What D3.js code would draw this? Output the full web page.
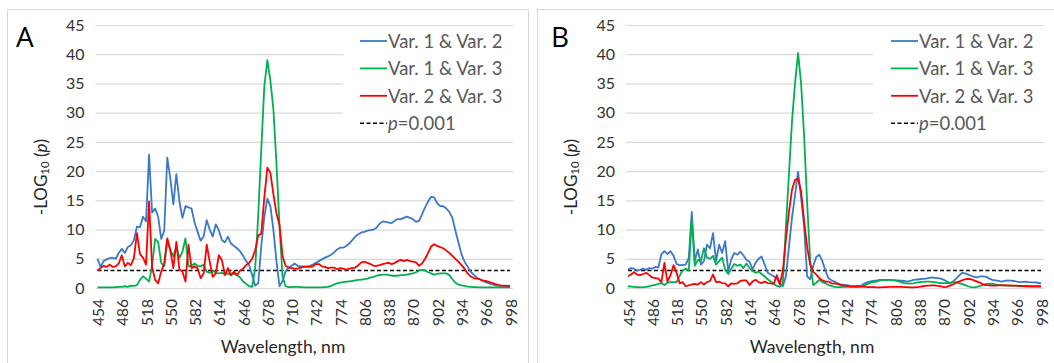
<!DOCTYPE html>
<html>
<head>
<meta charset="utf-8">
<script src="https://cdn.jsdelivr.net/npm/d3@7"></script>
<style>
  html, body { margin: 0; padding: 0; background: #fff; }
  svg { display: block; font-family: Lato, "Noto Sans", sans-serif; }
</style>
</head>
<body>
<svg id="chart" width="1054" height="363"></svg>
<script>
// Wavelength bands (nm)
const wavelengths = [
  454, 458, 462, 466, 470, 474, 478, 482,
  486, 490, 494, 498, 502, 506, 510, 514,
  518, 522, 526, 530, 534, 538, 542, 546,
  550, 554, 558, 562, 566, 570, 574, 578,
  582, 586, 590, 594, 598, 602, 606, 610,
  614, 618, 622, 626, 630, 634, 638, 642,
  646, 650, 654, 658, 662, 666, 670, 674,
  678, 682, 686, 690, 694, 698, 702, 706,
  710, 714, 718, 722, 726, 730, 734, 738,
  742, 746, 750, 754, 758, 762, 766, 770,
  774, 778, 782, 786, 790, 794, 798, 802,
  806, 810, 814, 818, 822, 826, 830, 834,
  838, 842, 846, 850, 854, 858, 862, 866,
  870, 874, 878, 882, 886, 890, 894, 898,
  902, 906, 910, 914, 918, 922, 926, 930,
  934, 938, 942, 946, 950, 954, 958, 962,
  966, 970, 974, 978, 982, 986, 990, 994,
  998
];

const xTickLabels = [454, 486, 518, 550, 582, 614, 646, 678, 710, 742, 774, 806, 838, 870, 902, 934, 966, 998];
const yTickValues = [0, 5, 10, 15, 20, 25, 30, 35, 40, 45];
const seriesNames = ["Var. 1 & Var. 2", "Var. 1 & Var. 3", "Var. 2 & Var. 3"];
const pThreshold = 0.001;
const panelLetters = ["A", "B"];

// Panel A: -log10(p) per band
const panelA_var12 = [
  5.0, 3.6, 4.6, 4.9, 5.1, 5.2, 5.0, 6.0,
  6.7, 6.0, 7.0, 7.3, 8.2, 10.5, 10.4, 12.2,
  11.4, 22.8, 12.9, 13.6, 12.2, 8.4, 9.8, 22.3,
  18.8, 14.3, 19.5, 14.8, 12.0, 14.0, 13.8, 13.6,
  11.2, 9.6, 8.1, 8.8, 11.6, 10.0, 8.8, 10.9,
  9.9, 8.2, 7.8, 8.8, 7.6, 7.2, 6.8, 6.3,
  5.5, 4.6, 3.9, 2.2, 0.4, 0.8, 7.2, 12.2,
  15.3, 14.0, 9.9, 4.6, 0.3, 1.2, 2.8, 3.5,
  3.8, 4.2, 3.8, 3.7, 3.7, 3.7, 3.8, 4.0,
  4.3, 4.6, 4.9, 5.2, 5.4, 5.7, 6.1, 6.6,
  6.9, 6.9, 7.2, 7.6, 8.2, 8.8, 9.2, 9.5,
  9.6, 9.8, 9.9, 10.0, 10.3, 11.0, 11.4, 11.3,
  11.2, 11.1, 11.5, 11.8, 11.8, 12.0, 12.2, 12.0,
  11.8, 11.3, 11.5, 12.6, 13.8, 14.8, 15.6, 15.5,
  14.5, 14.0, 14.0, 13.6, 13.0, 12.0, 9.8, 7.8,
  5.8, 4.5, 3.7, 2.8, 2.3, 1.8, 1.5, 1.2,
  1.0, 0.8, 0.65, 0.5, 0.4, 0.35, 0.3, 0.25,
  0.2
];
const panelA_var13 = [
  0.1, 0.1, 0.1, 0.1, 0.1, 0.1, 0.15, 0.2,
  0.2, 0.3, 0.2, 0.4, 0.35, 0.5, 1.4, 2.0,
  1.6, 1.1, 3.8, 8.4, 7.9, 4.3, 3.7, 8.0,
  6.5, 5.4, 7.1, 5.1, 6.2, 8.5, 3.7, 3.8,
  4.2, 3.8, 3.7, 4.0, 2.8, 2.6, 3.0, 2.6,
  2.5, 2.6, 2.3, 2.5, 2.2, 2.5, 2.2, 1.8,
  1.1, 0.7, 0.3, 0.2, 3.5, 12.5, 23.8, 34.5,
  39.0, 35.5, 30.5, 21.3, 10.8, 2.0, 0.3, 0.15,
  0.15, 0.2, 0.2, 0.15, 0.1, 0.1, 0.1, 0.1,
  0.1, 0.1, 0.1, 0.15, 0.2, 0.35, 0.6, 0.8,
  0.9, 1.0, 1.1, 1.15, 1.2, 1.3, 1.4, 1.45,
  1.5, 1.6, 1.8, 1.9, 2.1, 2.2, 2.3, 2.3,
  2.2, 2.1, 2.1, 2.1, 2.2, 2.2, 2.3, 2.4,
  2.5, 2.7, 3.0, 3.1, 3.0, 2.7, 2.5, 2.3,
  2.4, 2.5, 2.5, 2.5, 2.2, 1.5, 0.9, 0.6,
  0.45, 0.35, 0.25, 0.2, 0.15, 0.15, 0.1, 0.1,
  0.1, 0.1, 0.1, 0.1, 0.1, 0.1, 0.1, 0.1,
  0.1
];
const panelA_var23 = [
  3.0, 3.4, 3.8, 3.6, 4.0, 3.6, 3.7, 4.2,
  5.6, 3.7, 4.3, 3.9, 5.1, 9.4, 5.8, 5.2,
  4.0, 14.8, 3.5, 1.4, 0.8, 2.8, 4.2, 8.5,
  6.5, 3.4, 7.9, 3.2, 2.8, 1.1, 7.4, 3.4,
  3.7, 3.4, 1.7, 2.5, 7.4, 4.5, 1.9, 2.5,
  5.6, 4.8, 2.2, 3.4, 2.2, 2.8, 2.2, 3.0,
  3.3, 3.9, 4.3, 5.0, 6.5, 9.0, 9.3, 15.5,
  20.6, 19.7, 16.0, 12.8, 10.8, 5.5, 3.8, 3.5,
  3.4, 3.3, 3.3, 3.5, 3.6, 3.6, 3.6, 3.7,
  4.1, 4.1, 3.7, 3.6, 3.4, 3.5, 3.5, 3.2,
  3.4, 3.3, 3.1, 3.3, 3.4, 3.5, 3.9, 4.4,
  4.5, 4.3, 4.1, 3.8, 3.8, 3.9, 4.1, 4.2,
  4.3, 4.1, 4.3, 4.6, 4.8, 4.6, 4.8, 4.6,
  4.5, 4.4, 3.8, 4.2, 5.0, 6.0, 7.1, 7.5,
  7.2, 7.0, 6.8, 6.4, 6.0, 5.5, 5.0, 4.5,
  3.9, 3.3, 2.5, 2.0, 1.7, 1.6, 1.5, 1.3,
  1.2, 1.05, 0.9, 0.7, 0.55, 0.45, 0.4, 0.35,
  0.35
];

// Panel B: -log10(p) per band
const panelB_var12 = [
  3.2, 3.4, 3.3, 3.0, 3.1, 3.3, 3.1, 3.4,
  3.3, 3.6, 3.5, 5.8, 6.3, 5.8, 6.3, 5.5,
  4.1, 3.9, 3.9, 4.0, 5.1, 13.0, 4.6, 6.6,
  4.0, 4.6, 7.4, 6.8, 9.4, 4.6, 7.4, 6.0,
  8.0, 2.9, 4.9, 6.0, 5.7, 6.2, 5.6, 4.8,
  4.5, 3.2, 4.3, 5.0, 5.4, 4.0, 2.6, 2.3,
  2.0, 1.6, 0.8, 0.3, 2.0, 7.0, 12.0, 15.8,
  19.9, 15.5, 10.5, 2.0, 1.5, 3.8, 5.3, 5.7,
  4.6, 3.0, 1.7, 1.3, 1.1, 0.8, 0.6, 0.5,
  0.5, 0.4, 0.38, 0.35, 0.35, 0.45, 0.8, 1.0,
  1.15, 1.25, 1.3, 1.4, 1.4, 1.4, 1.4, 1.35,
  1.3, 1.3, 1.25, 1.2, 1.1, 1.2, 1.4, 1.45,
  1.5, 1.55, 1.6, 1.7, 1.8, 1.75, 1.7, 1.6,
  1.4, 1.1, 0.85, 1.1, 1.6, 2.1, 2.6, 2.5,
  2.3, 2.1, 1.9, 1.8, 2.0, 2.0, 1.9, 1.6,
  1.4, 1.3, 1.2, 1.1, 1.2, 1.3, 1.25, 1.2,
  1.1, 1.0, 1.05, 1.1, 1.0, 0.95, 0.95, 0.9,
  0.85
];
const panelB_var13 = [
  0.3, 0.25, 0.2, 0.15, 0.1, 0.15, 0.2, 0.3,
  0.45, 0.55, 0.7, 0.85, 0.5, 0.9, 1.0, 1.0,
  1.0, 2.1, 3.0, 3.3, 3.0, 11.7, 3.8, 4.8,
  4.6, 6.8, 5.2, 5.0, 5.5, 4.0, 4.6, 5.2,
  3.1, 2.4, 3.3, 4.1, 3.8, 4.0, 3.4, 4.2,
  3.4, 2.9, 2.6, 2.8, 2.4, 2.0, 1.5, 1.1,
  0.7, 0.35, 0.2, 0.8, 10.5, 19.5, 28.5, 35.0,
  40.2, 35.0, 26.0, 14.5, 4.5, 0.5, 0.9, 1.4,
  1.0, 0.8, 0.5, 0.35, 0.2, 0.15, 0.15, 0.2,
  0.2, 0.25, 0.3, 0.3, 0.2, 0.3, 0.5, 0.7,
  0.95, 1.0, 1.15, 1.3, 1.35, 1.4, 1.4, 1.35,
  1.3, 1.15, 1.0, 0.85, 0.8, 0.75, 0.8, 0.9,
  1.0, 1.05, 1.1, 1.1, 1.05, 1.0, 0.9, 0.85,
  0.85, 0.85, 0.85, 0.95, 1.0, 0.85, 0.7, 0.5,
  0.3, 0.15, 0.1, 0.2, 0.35, 0.55, 0.7, 0.75,
  0.7, 0.6, 0.55, 0.5, 0.45, 0.4, 0.4, 0.35,
  0.35, 0.3, 0.3, 0.3, 0.3, 0.25, 0.25, 0.25,
  0.25
];
const panelB_var23 = [
  2.0, 2.3, 2.7, 2.3, 2.2, 2.4, 2.6, 2.2,
  1.8, 1.7, 1.6, 1.0, 4.3, 1.1, 2.2, 3.9,
  2.6, 0.8, 1.0, 0.3, 0.45, 0.6, 0.7, 0.6,
  1.0, 0.6, 1.0, 1.2, 2.3, 1.0, 1.1, 0.85,
  0.8, 0.3, 0.8, 0.7, 0.8, 1.2, 1.3, 1.3,
  0.5, 1.1, 1.4, 1.0, 0.85, 1.1, 0.85, 0.8,
  0.7, 2.2, 0.6, 3.0, 8.3, 13.0, 16.8, 18.5,
  18.7, 16.5, 11.5, 7.0, 4.0, 2.8, 2.3, 1.7,
  1.3, 1.1, 1.1, 0.8, 0.75, 0.7, 0.55, 0.45,
  0.35, 0.25, 0.2, 0.2, 0.25, 0.25, 0.2, 0.15,
  0.15, 0.15, 0.1, 0.1, 0.15, 0.15, 0.2, 0.2,
  0.2, 0.2, 0.2, 0.15, 0.15, 0.1, 0.1, 0.15,
  0.2, 0.3, 0.35, 0.4, 0.45, 0.45, 0.35, 0.3,
  0.15, 0.2, 0.4, 0.6, 0.85, 1.1, 1.3, 1.5,
  1.55, 1.5, 1.3, 1.1, 0.9, 0.6, 0.5, 0.45,
  0.4, 0.4, 0.45, 0.45, 0.45, 0.45, 0.4, 0.4,
  0.4, 0.35, 0.35, 0.3, 0.3, 0.3, 0.3, 0.3,
  0.3
];

const seriesColors = ["#3b78c8", "#00b050", "#ff0000"];

const svg = d3.select("#chart");
svg.append("rect").attr("width", 1054).attr("height", 363).attr("fill", "#fff");

function drawPanel(cfg, letter, seriesValues) {
  const g = svg.append("g");

  // chart frame
  g.append("rect")
    .attr("x", cfg.frame[0] + 0.5).attr("y", cfg.frame[1] + 0.5)
    .attr("width", cfg.frame[2]).attr("height", cfg.frame[3])
    .attr("fill", "none").attr("stroke", "#d9d9d9").attr("stroke-width", 1);

  const x = d3.scaleLinear().domain([454, 998]).range([cfg.left, cfg.right]);
  const y = d3.scaleLinear().domain([0, 45]).range([cfg.bottom, cfg.top]);

  // horizontal gridlines + y tick labels
  const yAxis = d3.axisLeft(y).tickValues(yTickValues)
    .tickSize(-(cfg.right - cfg.left + 5)).tickPadding(11);
  const ya = g.append("g")
    .attr("transform", `translate(${cfg.left - 2},0)`)
    .call(yAxis);
  ya.select(".domain").remove();
  ya.selectAll(".tick line").attr("stroke", "#d9d9d9").attr("stroke-width", 1.2);
  ya.selectAll(".tick text")
    .attr("font-family", "Lato, 'Noto Sans', sans-serif")
    .attr("font-size", 16).attr("fill", "#333");

  // x tick labels (rotated)
  const xAxis = d3.axisBottom(x).tickValues(xTickLabels).tickSize(0).tickPadding(0);
  const xa = g.append("g")
    .attr("transform", `translate(0,${cfg.bottom})`)
    .call(xAxis);
  xa.select(".domain").remove();
  xa.selectAll(".tick text")
    .attr("font-family", "Lato, 'Noto Sans', sans-serif")
    .attr("font-size", 15.5).attr("fill", "#333")
    .attr("text-anchor", "end")
    .attr("dy", null).attr("y", 0)
    .attr("dominant-baseline", "central")
    .attr("transform", "translate(0,11) rotate(-90)");

  // legend background covers gridlines
  g.append("rect")
    .attr("x", cfg.legendBox[0]).attr("y", cfg.legendBox[1])
    .attr("width", cfg.legendBox[2]).attr("height", cfg.legendBox[3])
    .attr("fill", "#fff");

  // threshold line
  const thr = -Math.log10(pThreshold);
  g.append("line")
    .attr("x1", x(454)).attr("x2", x(998))
    .attr("y1", y(thr)).attr("y2", y(thr))
    .attr("stroke", "#000").attr("stroke-width", 1.5)
    .attr("stroke-dasharray", "4,2.5");

  // series lines
  const line = d3.line()
    .x((d, i) => x(wavelengths[i]))
    .y(d => y(d));
  seriesValues.forEach((vals, k) => {
    g.append("path")
      .datum(vals)
      .attr("d", line)
      .attr("fill", "none")
      .attr("stroke", seriesColors[k])
      .attr("stroke-width", 1.8)
      .attr("stroke-linejoin", "round");
  });

  // legend
  const lg = g.append("g").attr("transform", `translate(${cfg.legend[0]},${cfg.legend[1]})`);
  const rowH = 27.4;
  seriesNames.forEach((name, k) => {
    lg.append("line")
      .attr("x1", 0).attr("x2", 27).attr("y1", k * rowH).attr("y2", k * rowH)
      .attr("stroke", seriesColors[k]).attr("stroke-width", 1.8);
    lg.append("text")
      .attr("x", 28).attr("y", k * rowH)
      .attr("dominant-baseline", "central")
      .attr("font-size", 18.5).attr("fill", "#595959")
      .text(name);
  });
  lg.append("line")
    .attr("x1", 0).attr("x2", 27).attr("y1", 3 * rowH).attr("y2", 3 * rowH)
    .attr("stroke", "#000").attr("stroke-width", 1.5)
    .attr("stroke-dasharray", "4,2.5");
  const pt = lg.append("text")
    .attr("x", 28).attr("y", 3 * rowH)
    .attr("dominant-baseline", "central")
    .attr("font-size", 18.5).attr("fill", "#595959");
  pt.append("tspan").attr("font-style", "italic").text("p");
  pt.append("tspan").text("=" + pThreshold.toFixed(3));

  // y axis title
  const yt = g.append("text")
    .attr("transform", `translate(${cfg.yTitle[0]},${cfg.yTitle[1]}) rotate(-90)`)
    .attr("text-anchor", "middle")
    .attr("dominant-baseline", "central")
    .attr("font-size", 17).attr("fill", "#262626");
  yt.append("tspan").text("-LOG");
  yt.append("tspan").attr("font-size", 11.5).attr("dy", 4).text("10");
  yt.append("tspan").attr("dy", -4).text(" (");
  yt.append("tspan").attr("font-style", "italic").text("p");
  yt.append("tspan").text(")");

  // x axis title
  g.append("text")
    .attr("x", cfg.xTitle[0]).attr("y", cfg.xTitle[1])
    .attr("text-anchor", "middle")
    .attr("font-size", 17.5).attr("fill", "#262626")
    .text("Wavelength, nm");

  // panel letter
  g.append("text")
    .attr("x", cfg.letter[0]).attr("y", cfg.letter[1])
    .attr("font-family", "'Open Sans', 'Noto Sans', sans-serif")
    .attr("font-size", 28).attr("fill", "#000")
    .text(letter);
}

const panelA = {
  frame: [7, 9, 521, 360],
  left: 97.5, right: 510, top: 25, bottom: 288,
  legendBox: [343, 30, 180, 104],
  legend: [360, 41],
  yTitle: [40, 177],
  xTitle: [283, 353],
  letter: [16, 47]
};
const panelB = {
  frame: [537, 9, 530, 360],
  left: 628, right: 1041, top: 25, bottom: 288,
  legendBox: [873, 30, 180, 104],
  legend: [891, 41],
  yTitle: [570, 177],
  xTitle: [812, 353],
  letter: [551, 47]
};

drawPanel(panelA, panelLetters[0], [panelA_var12, panelA_var13, panelA_var23]);
drawPanel(panelB, panelLetters[1], [panelB_var12, panelB_var13, panelB_var23]);
</script>
</body>
</html>
